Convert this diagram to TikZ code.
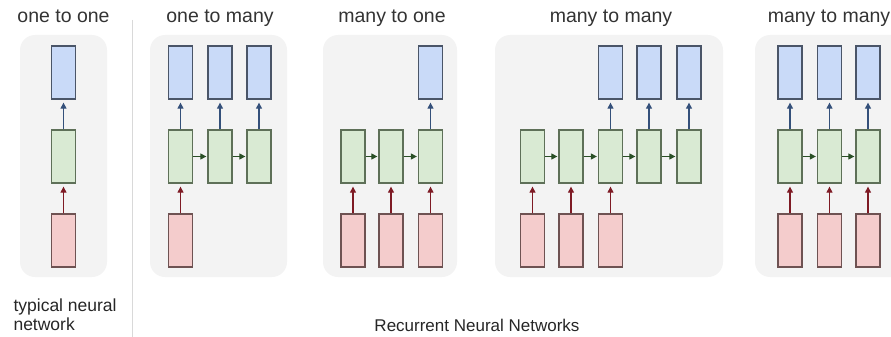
\documentclass[tikz,border=0pt]{standalone}
\usepackage{fontspec}
\setmainfont{Liberation Sans}
\usetikzlibrary{arrows.meta}

\definecolor{yfill}{HTML}{C9DAF8}
\definecolor{hfill}{HTML}{D9EAD3}
\definecolor{xfill}{HTML}{F4CCCC}
\definecolor{yline}{HTML}{4A5568}
\definecolor{hline}{HTML}{5E7058}
\definecolor{xline}{HTML}{6E5252}
\definecolor{panelgray}{HTML}{F3F3F3}
\definecolor{inred}{HTML}{7E1A24}
\definecolor{outblue}{HTML}{34507A}
\definecolor{recgreen}{HTML}{2A4F26}

\tikzset{
  cell/.style={line width=1.3pt, minimum width=24pt, minimum height=53pt, inner sep=0pt},
  xcell/.style={cell, draw=xline, fill=xfill},
  hcell/.style={cell, draw=hline, fill=hfill},
  ycell/.style={cell, draw=yline, fill=yfill},
  panel/.style={fill=panelgray, rounded corners=15pt},
  conn/.style={line width=1.1pt, -{Triangle[length=6pt,width=6pt]}, shorten >=3pt},
  inarr/.style={conn, draw=inred, fill=inred},
  outarr/.style={conn, draw=outblue, fill=outblue},
  recarr/.style={conn, draw=recgreen, fill=recgreen, shorten >=1pt},
  title/.style={anchor=base, font=\fontsize{19.5}{22}\selectfont, text=black!80},
}

\begin{document}
\begin{tikzpicture}[x=1pt,y=-1pt]
  \useasboundingbox (0,0) rectangle (891,337);

  % separator
  \draw[black!15, line width=0.8pt] (132,20) -- (132,337);

  % one to one
  \fill[panel] (20,35) rectangle (107,277);
  \node[title] (t-a) at (63.5,23) {one to one};
  \node[ycell] (a-y1) at (63.5,72.5) {};
  \node[hcell] (a-h1) at (63.5,156.5) {};
  \node[xcell] (a-x1) at (63.5,240.5) {};
  \draw[inarr] (a-x1) -- (a-h1);
  \draw[outarr] (a-h1) -- (a-y1);
  \node[anchor=base west, align=left, font=\fontsize{17.5}{18.5}\selectfont, text=black!85] (t-nn) at (10,330) {typical neural\\network};

  % one to many
  \fill[panel] (150,35) rectangle (287,277);
  \node[title] (t-b) at (220,23) {one to many};
  \foreach \i/\x in {1/180.5,2/220,3/259} {
    \node[ycell] (b-y\i) at (\x,72.5) {};
    \node[hcell] (b-h\i) at (\x,156.5) {};
    \draw[outarr] (b-h\i) -- (b-y\i);
  }
  \node[xcell] (b-x1) at (180.5,240.5) {};
  \draw[inarr] (b-x1) -- (b-h1);
  \draw[recarr] (b-h1) -- (b-h2);
  \draw[recarr] (b-h2) -- (b-h3);

  % many to one
  \fill[panel] (323,35) rectangle (457,277);
  \node[title] (t-c) at (392,23) {many to one};
  \foreach \i/\x in {1/353,2/391,3/430.5} {
    \node[hcell] (c-h\i) at (\x,156.5) {};
    \node[xcell] (c-x\i) at (\x,240.5) {};
    \draw[inarr] (c-x\i) -- (c-h\i);
  }
  \node[ycell] (c-y3) at (430.5,72.5) {};
  \draw[outarr] (c-h3) -- (c-y3);
  \draw[recarr] (c-h1) -- (c-h2);
  \draw[recarr] (c-h2) -- (c-h3);

  % many to many (delayed)
  \fill[panel] (495,35) rectangle (723,277);
  \node[title] (t-d) at (611,23) {many to many};
  \foreach \i/\x in {1/532.5,2/571,3/610.5,4/649,5/689} {
    \node[hcell] (d-h\i) at (\x,156.5) {};
  }
  \foreach \i in {1,2,3} {
    \node[xcell] (d-x\i) at (d-h\i |- 0,240.5) {};
    \draw[inarr] (d-x\i) -- (d-h\i);
  }
  \foreach \i in {3,4,5} {
    \node[ycell] (d-y\i) at (d-h\i |- 0,72.5) {};
    \draw[outarr] (d-h\i) -- (d-y\i);
  }
  \foreach \i/\j in {1/2,2/3,3/4,4/5} {
    \draw[recarr] (d-h\i) -- (d-h\j);
  }

  % many to many (synced)
  \fill[panel] (755,35) rectangle (910,277);
  \node[title] (t-e) at (829,23) {many to many};
  \foreach \i/\x in {1/790,2/829.5,3/868} {
    \node[ycell] (e-y\i) at (\x,72.5) {};
    \node[hcell] (e-h\i) at (\x,156.5) {};
    \node[xcell] (e-x\i) at (\x,240.5) {};
    \draw[inarr] (e-x\i) -- (e-h\i);
    \draw[outarr] (e-h\i) -- (e-y\i);
  }
  \draw[recarr] (e-h1) -- (e-h2);
  \draw[recarr] (e-h2) -- (e-h3);

  \node[anchor=base, font=\fontsize{17}{19}\selectfont, text=black!85] (t-rnn) at (477,331) {Recurrent Neural Networks};
\end{tikzpicture}
\end{document}
